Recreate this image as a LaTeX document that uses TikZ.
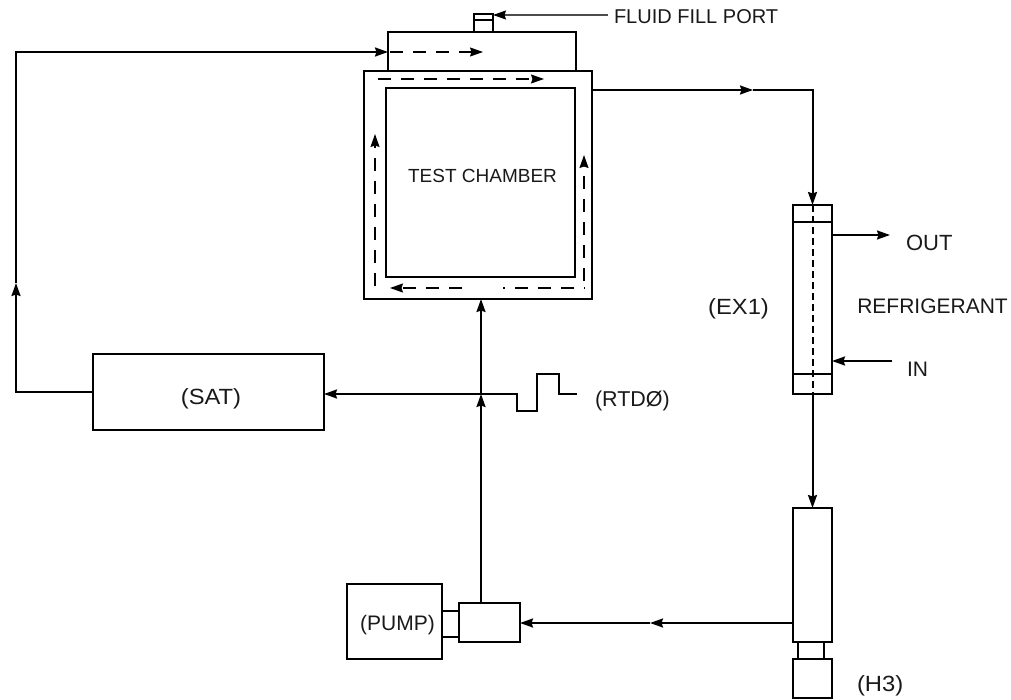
\documentclass[tikz,border=0pt]{standalone}
\usepackage{fontspec}
\setmainfont{Liberation Sans}
\newfontfamily\widefont[FakeStretch=1.08]{Liberation Sans}
\usetikzlibrary{arrows.meta}
\tikzset{
 x=1pt,y=-1pt,
 box/.style={draw=black,line width=2pt,rectangle,inner sep=0pt,outer sep=0pt,minimum width=#1},
 lbl/.style={inner sep=0pt,outer sep=0pt,text=black!90,font=\fontsize{20}{22}\selectfont},
 widelbl/.style={lbl,font=\widefont\fontsize{22}{24}\selectfont},
 pipe/.style={draw=black,line width=2pt,line join=miter},
 flow/.style={pipe,-{Stealth[length=13pt,width=9pt,inset=1.5pt]}},
 flowdash/.style={draw=black,line width=1.3pt,dash pattern=on 13pt off 10pt,-{Stealth[length=13pt,width=9pt,inset=1.5pt]}},
 flowplain/.style={draw=black,line width=1.3pt,dash pattern=on 13pt off 10pt,dash phase=12pt},
 fillarrow/.style={draw=black!70,line width=1.3pt,-{Stealth[length=13pt,width=9pt,inset=1.5pt,black]}},
}
\begin{document}
\begin{tikzpicture}
\useasboundingbox (0,0) rectangle (1011,700);
% boxes
\node[box=228pt,minimum height=228pt] (outer) at (478,185) {};
\node[box=189pt,minimum height=189pt] (inner) at (480.5,182.5) {};
\node[box=188pt,minimum height=39pt] (top) at (482,51.5) {};
\node[box=19pt,minimum height=18pt] (port) at (483.5,23) {};
\node[box=231pt,minimum height=76pt] (sat) at (208.5,392) {};
\node[box=39pt,minimum height=189pt] (ex) at (812.5,299.5) {};
\node[box=39pt,minimum height=134pt] (heater) at (812.5,575) {};
\node[box=39pt,minimum height=39pt] (h3) at (812.5,678.5) {};
\node[box=95pt,minimum height=75pt] (pump) at (394.5,621.5) {};
\node[box=61pt,minimum height=39pt] (head) at (489.5,622.5) {};
% labels
\node[lbl,anchor=west] (lfill) at (614,17) {FLUID FILL PORT};
\node[lbl,font=\fontsize{19}{21}\selectfont] (ltest) at (482.5,176) {TEST CHAMBER};
\node[lbl,anchor=west,font=\fontsize{22}{24}\selectfont] (lout) at (906,243) {OUT};
\node[lbl,anchor=west,font=\fontsize{21}{23}\selectfont] (lin) at (907,369) {IN};
\node[lbl,font=\fontsize{21}{23}\selectfont] (lref) at (932.5,306) {REFRIGERANT};
\node[widelbl] (lex) at (738.5,309) {(EX1)};
\node[widelbl] (lsat) at (211,399) {(SAT)};
\node[lbl,anchor=west,font=\fontsize{21.5}{24}\selectfont] (lrtd) at (595,401) {(RTD\O)};
\node[lbl,font=\fontsize{21}{23}\selectfont] (lpump) at (397.5,625) {(PUMP)};
\node[widelbl,anchor=west] (lh3) at (857,686) {(H3)};
% fill port
\draw[pipe,line width=1.6pt] (port.west |- 0,20) -- (port.east |- 0,20);
\coordinate (fillend) at (608,15);
\draw[fillarrow] (fillend) -- (port.east |- fillend);
% return loop
\coordinate (c1) at (16,392);
\coordinate (c2) at (16,283);
\coordinate (c3) at (16,52);
\draw[flow] (sat.west) -- (c1) -- (c2);
\draw[flow] (c2) -- (c3) -- (top.west |- c3);
% outlet
\coordinate (o1) at (592,90);
\coordinate (o2) at (753,90);
\coordinate (o3) at (812.5,90);
\draw[flow] (o1) -- (o2);
\draw[flow] (o2) -- (o3) -- (ex.north);
\draw[flow] (ex.south) -- (heater.north);
% exchanger internals
\draw[pipe] (ex.west |- 0,222) -- (ex.east |- 0,222);
\draw[pipe] (ex.west |- 0,374) -- (ex.east |- 0,374);
\draw[draw=black,line width=2pt,dash pattern=on 7pt off 4pt] (ex.north) -- (ex.south);
% refrigerant
\coordinate (rout) at (890,235);
\coordinate (rin) at (892,361);
\draw[flow] (ex.east |- rout) -- (rout);
\draw[flow] (rin) -- (ex.east |- rin);
% heater to pump
\coordinate (m1) at (650,623);
\draw[flow] (heater.west |- m1) -- (m1);
\draw[flow] (m1) -- (head.east |- m1);
% heater stem
\draw[pipe] (798,642) -- (798,659);
\draw[pipe] (824,642) -- (824,659);
% pump coupling
\draw[pipe] (pump.east |- 0,611) -- (head.west |- 0,611);
\draw[pipe] (pump.east |- 0,637) -- (head.west |- 0,637);
% riser
\coordinate (j1) at (481,394);
\draw[flow] (head.north -| j1) -- (j1);
\draw[flow] (j1) -- (j1 |- outer.south);
% RTD
\coordinate (r1) at (517,394);
\coordinate (r2) at (517,411);
\coordinate (r3) at (537,411);
\coordinate (r4) at (537,374);
\coordinate (r5) at (559,374);
\coordinate (r6) at (559,394);
\coordinate (r7) at (577,394);
\draw[flow] (r7) -- (r6) -- (r5) -- (r4) -- (r3) -- (r2) -- (r1) -- (sat.east |- r1);
% internal flow
\coordinate (d1) at (390,52);
\coordinate (d2) at (483,52);
\draw[flowdash] (d1) -- (d2);
\coordinate (d3) at (378,79);
\coordinate (d4) at (544,79);
\draw[flowdash] (d3) -- (d4);
\coordinate (d5) at (375,286);
\coordinate (d6) at (375,134);
\draw[flowdash] (d5) -- (d6);
\coordinate (d7) at (584,281);
\coordinate (d8) at (584,155);
\draw[flowdash] (d7) -- (d8);
\coordinate (d9) at (585,288);
\coordinate (d10) at (503,288);
\draw[flowplain] (d9) -- (d10);
\coordinate (d11) at (462,288);
\coordinate (d12) at (390,288);
\draw[flowdash] (d11) -- (d12);
\end{tikzpicture}
\end{document}
